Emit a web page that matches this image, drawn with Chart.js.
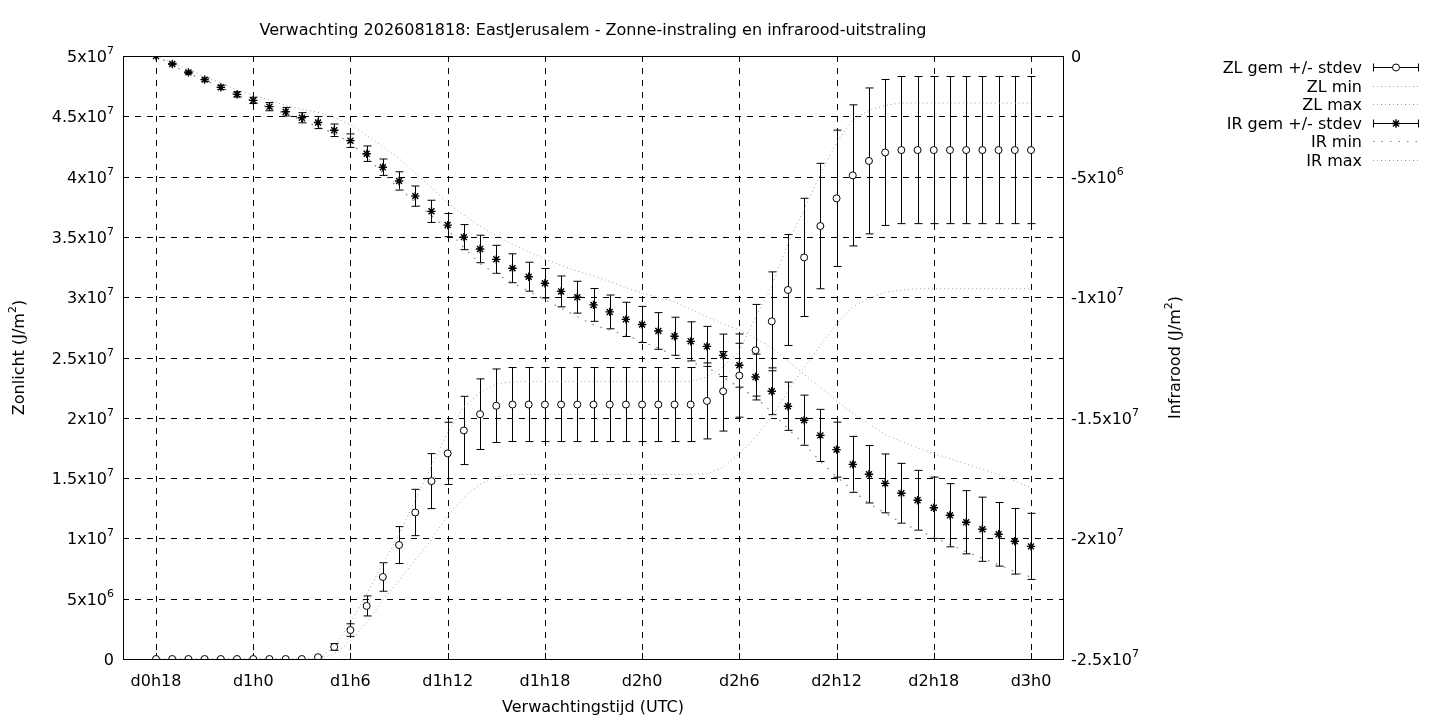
<!DOCTYPE html>
<html><head><meta charset="utf-8">
<script src="https://cdn.jsdelivr.net/npm/chart.js@4/dist/chart.umd.min.js"></script>
<style>html,body{margin:0;padding:0;background:#fff}#wrap{width:1440px;height:720px}</style>
</head><body><div id="wrap"><canvas id="c" width="1440" height="720"></canvas></div>
<script>
// ---------- DATA (values in units of 10^6 J/m^2) ----------
const titleText = "Verwachting 2026081818: EastJerusalem - Zonne-instraling en infrarood-uitstraling";
const xAxisTitle = "Verwachtingstijd (UTC)";
const leftAxisTitle = "Zonlicht (J/m^2)";
const rightAxisTitle = "Infrarood (J/m^2)";
const xTickHours = [0, 6, 12, 18, 24, 30, 36, 42, 48, 54];
const xTickLabels = ["d0h18", "d1h0", "d1h6", "d1h12", "d1h18", "d2h0", "d2h6", "d2h12", "d2h18", "d3h0"];
const leftTickValues = [0, 5, 10, 15, 20, 25, 30, 35, 40, 45, 50];
const leftTickLabels = ["0", "5x10^6", "1x10^7", "1.5x10^7", "2x10^7", "2.5x10^7", "3x10^7", "3.5x10^7", "4x10^7", "4.5x10^7", "5x10^7"];
const rightTickValues = [0, -5, -10, -15, -20, -25];
const rightTickLabels = ["0", "-5x10^6", "-1x10^7", "-1.5x10^7", "-2x10^7", "-2.5x10^7"];
const legendLabels = ["ZL gem +/- stdev", "ZL min", "ZL max", "IR gem +/- stdev", "IR min", "IR max"];

// hourly forecast steps, d0h18 .. d3h0 (hours since first step)
const hours = [0,1,2,3,4,5,6,7,8,9,10,11,12,13,14,15,16,17,18,19,20,21,22,23,24,25,26,27,28,29,30,31,32,33,34,35,36,37,38,39,40,41,42,43,44,45,46,47,48,49,50,51,52,53,54];

const zlMean = [0,0,0,0,0,0,0,0,0,0,0.15,1.0,2.4,4.4,6.8,9.45,12.15,14.75,17.05,18.95,20.3,21.0,
  21.1,21.1,21.1,21.1,21.1,21.1,21.1,21.1,21.1,21.1,21.1,21.1,
  21.4,22.2,23.5,25.6,28.0,30.6,33.3,35.9,38.2,40.1,41.3,42.0,
  42.2,42.2,42.2,42.2,42.2,42.2,42.2,42.2,42.2];
const zlStd = [0,0,0,0,0,0,0,0,0,0,0.05,0.28,0.52,0.83,1.18,1.53,1.92,2.28,2.58,2.83,2.93,3.05,
  3.07,3.07,3.07,3.07,3.07,3.07,3.07,3.07,3.07,3.07,3.07,3.07,
  3.15,3.3,3.45,3.8,4.1,4.6,4.9,5.2,5.65,5.85,6.05,6.05,
  6.1,6.1,6.1,6.1,6.1,6.1,6.1,6.1,6.1];
const zlMin = [0,0,0,0,0,0,0,0,0,0,0,0.4,1.5,3.0,4.9,6.5,8.2,9.9,11.9,13.4,14.5,15.1,
  15.3,15.3,15.3,15.3,15.3,15.3,15.3,15.3,15.3,15.3,15.3,15.3,
  15.35,15.9,17.0,18.4,20.1,22.2,24.2,26.0,27.8,29.2,29.9,30.4,
  30.6,30.7,30.7,30.7,30.7,30.7,30.7,30.7,30.7];
const zlMax = [0,0,0,0,0,0,0,0,0,0,0,1.0,3.0,5.4,7.9,10.3,13.2,16.0,18.8,20.9,22.1,22.8,
  23.0,23.0,23.0,23.0,23.0,23.0,23.0,23.0,23.0,23.0,23.0,23.0,
  23.4,24.2,25.6,28.3,30.9,34.5,37.3,40.2,42.8,44.7,45.5,45.9,
  46.1,46.1,46.1,46.1,46.1,46.1,46.1,46.1,46.1];

const irMean = [0,-0.33,-0.68,-0.98,-1.30,-1.59,-1.84,-2.10,-2.31,-2.56,-2.76,-3.08,-3.51,-4.05,-4.61,-5.18,-5.81,-6.44,-7.01,-7.51,
  -8.00,-8.43,-8.80,-9.15,-9.42,-9.76,-10.00,-10.32,-10.61,-10.92,-11.13,-11.40,-11.62,-11.83,-12.04,-12.41,-12.82,-13.31,-13.90,-14.52,
  -15.10,-15.73,-16.32,-16.93,-17.34,-17.72,-18.13,-18.42,-18.73,-19.04,-19.33,-19.62,-19.83,-20.12,-20.33];
const irStd = [0,0.03,0.05,0.07,0.09,0.11,0.13,0.17,0.18,0.21,0.25,0.26,0.28,0.32,0.34,0.38,0.42,0.46,0.48,0.52,
  0.57,0.58,0.60,0.60,0.61,0.64,0.66,0.68,0.70,0.71,0.75,0.76,0.79,0.81,0.83,0.88,0.91,0.95,0.97,1.00,
  1.04,1.08,1.14,1.16,1.19,1.22,1.24,1.24,1.27,1.31,1.31,1.33,1.32,1.36,1.37];
const irMin = [0,-0.38,-0.72,-1.0,-1.3,-1.6,-1.88,-2.15,-2.4,-2.66,-2.93,-3.2,-3.6,-4.2,-4.85,-5.5,-6.05,-6.62,-7.2,-7.95,
  -8.6,-9.05,-9.4,-9.75,-10.1,-10.45,-10.8,-11.15,-11.36,-11.57,-11.85,-12.1,-12.45,-12.7,-12.9,-13.3,-13.75,-14.15,-14.75,-15.45,
  -16.1,-16.8,-17.45,-18.0,-18.55,-18.95,-19.35,-19.65,-19.95,-20.25,-20.55,-20.82,-21.1,-21.37,-21.6];
const irMax = [0,-0.28,-0.56,-0.84,-1.12,-1.40,-1.62,-1.83,-2.05,-2.22,-2.33,-2.55,-2.85,-3.30,-3.76,-4.25,-4.85,-5.45,-6.10,-6.60,
  -7.05,-7.45,-7.80,-8.12,-8.42,-8.68,-8.92,-9.12,-9.35,-9.60,-9.83,-10.00,-10.20,-10.50,-10.82,-11.10,-11.36,-11.70,-12.10,-12.65,
  -13.20,-13.75,-14.30,-14.80,-15.25,-15.70,-15.98,-16.25,-16.48,-16.70,-16.92,-17.13,-17.36,-17.62,-17.90];

// ---------- STYLE ----------
const FONT = '"DejaVu Sans", "Liberation Sans", sans-serif';
const FS = 16;
const zlLineColor = '#a0a0a0';
const irMinColor = '#808080';
const irMaxColor = '#a0a0a0';

const pts = (arr) => arr.map((v, i) => ({x: hours[i], y: v}));

function drawRich(ctx, str, x, y, align, size) {
  const segs = [];
  const parts = str.split('^');
  segs.push({t: parts[0], sup: false});
  for (let k = 1; k < parts.length; k++) {
    segs.push({t: parts[k].charAt(0), sup: true});
    if (parts[k].length > 1) segs.push({t: parts[k].slice(1), sup: false});
  }
  const supSize = Math.round(size * 0.7);
  let total = 0;
  segs.forEach(s => { ctx.font = (s.sup ? supSize : size) + 'px ' + FONT; s.w = ctx.measureText(s.t).width; total += s.w; });
  let cx = align === 'right' ? x - total : (align === 'center' ? x - total / 2 : x);
  ctx.textAlign = 'left';
  ctx.textBaseline = 'alphabetic';
  segs.forEach(s => {
    ctx.font = (s.sup ? supSize : size) + 'px ' + FONT;
    ctx.fillText(s.t, cx, s.sup ? y - size * 0.5 : y);
    cx += s.w;
  });
}

function drawStar(ctx, mx, my, r) {
  ctx.beginPath();
  ctx.moveTo(mx - r, my); ctx.lineTo(mx + r, my);
  ctx.moveTo(mx, my - r); ctx.lineTo(mx, my + r);
  const d = r * Math.SQRT1_2;
  ctx.moveTo(mx - d, my - d); ctx.lineTo(mx + d, my + d);
  ctx.moveTo(mx - d, my + d); ctx.lineTo(mx + d, my - d);
  ctx.stroke();
}

const gnuplotPlugin = {
  id: 'gnuplotLook',
  beforeDatasetsDraw(chart) {
    const {ctx, chartArea: a, scales} = chart;
    const xs = scales.x, yl = scales.yL, yr = scales.yR;
    ctx.save();
    ctx.strokeStyle = '#000';
    ctx.lineWidth = 1;
    ctx.setLineDash([6, 6]);
    xTickHours.forEach(h => {
      const px = Math.round(xs.getPixelForValue(h)) + 0.5;
      ctx.beginPath(); ctx.moveTo(px, a.top); ctx.lineTo(px, a.bottom); ctx.stroke();
    });
    leftTickValues.forEach(v => {
      const py = Math.round(yl.getPixelForValue(v)) + 0.5;
      ctx.beginPath(); ctx.moveTo(a.left, py); ctx.lineTo(a.right, py); ctx.stroke();
    });
    ctx.setLineDash([]);
    const T = 6;
    xTickHours.forEach(h => {
      const px = Math.round(xs.getPixelForValue(h)) + 0.5;
      ctx.beginPath(); ctx.moveTo(px, a.bottom); ctx.lineTo(px, a.bottom - T);
      ctx.moveTo(px, a.top); ctx.lineTo(px, a.top + T); ctx.stroke();
    });
    leftTickValues.forEach(v => {
      const py = Math.round(yl.getPixelForValue(v)) + 0.5;
      ctx.beginPath(); ctx.moveTo(a.left, py); ctx.lineTo(a.left + T, py); ctx.stroke();
    });
    rightTickValues.forEach(v => {
      const py = Math.round(yr.getPixelForValue(v)) + 0.5;
      ctx.beginPath(); ctx.moveTo(a.right, py); ctx.lineTo(a.right - T, py); ctx.stroke();
    });
    ctx.strokeRect(Math.round(a.left) + 0.5, Math.round(a.top) + 0.5, Math.round(a.right - a.left), Math.round(a.bottom - a.top));
    const cap = 4;
    const drawErr = (mean, sd, ys) => {
      hours.forEach((h, i) => {
        if (!sd[i]) return;
        const px = Math.round(xs.getPixelForValue(h)) + 0.5;
        const y1 = ys.getPixelForValue(mean[i] + sd[i]);
        const y2 = ys.getPixelForValue(mean[i] - sd[i]);
        ctx.beginPath();
        ctx.moveTo(px, y1); ctx.lineTo(px, y2);
        ctx.moveTo(px - cap, y1); ctx.lineTo(px + cap, y1);
        ctx.moveTo(px - cap, y2); ctx.lineTo(px + cap, y2);
        ctx.stroke();
      });
    };
    drawErr(zlMean, zlStd, yl);
    drawErr(irMean, irStd, yr);
    ctx.restore();
  },
  afterDraw(chart) {
    const {ctx, chartArea: a, scales} = chart;
    const xs = scales.x, yl = scales.yL, yr = scales.yR;
    ctx.save();
    ctx.fillStyle = '#000';
    drawRich(ctx, titleText, (a.left + a.right) / 2, 35, 'center', FS);
    xTickHours.forEach((h, i) => drawRich(ctx, xTickLabels[i], xs.getPixelForValue(h), 686, 'center', FS));
    leftTickValues.forEach((v, i) => drawRich(ctx, leftTickLabels[i], a.left - 9, yl.getPixelForValue(v) + 6, 'right', FS));
    rightTickValues.forEach((v, i) => drawRich(ctx, rightTickLabels[i], a.right + 8, yr.getPixelForValue(v) + 6, 'left', FS));
    drawRich(ctx, xAxisTitle, (a.left + a.right) / 2, 712, 'center', FS);
    const cy = (a.top + a.bottom) / 2;
    ctx.save(); ctx.translate(24, cy); ctx.rotate(-Math.PI / 2);
    drawRich(ctx, leftAxisTitle, 0, 0, 'center', FS); ctx.restore();
    ctx.save(); ctx.translate(1180, cy); ctx.rotate(-Math.PI / 2);
    drawRich(ctx, rightAxisTitle, 0, 0, 'center', FS); ctx.restore();
    const rowsY = [67, 85.5, 104, 122.5, 141, 159.5];
    const tx = 1362, sx1 = 1373, sx2 = 1419;
    legendLabels.forEach((lab, i) => {
      const y = rowsY[i];
      ctx.fillStyle = '#000';
      drawRich(ctx, lab, tx, y + 6, 'right', FS);
      const ly = Math.round(y) + 0.5;
      ctx.lineWidth = 1;
      if (i === 0 || i === 3) {
        ctx.strokeStyle = '#000'; ctx.setLineDash([]);
        ctx.beginPath();
        ctx.moveTo(sx1, ly); ctx.lineTo(sx2, ly);
        ctx.moveTo(sx1 + 0.5, ly - 4); ctx.lineTo(sx1 + 0.5, ly + 4);
        ctx.moveTo(sx2 - 0.5, ly - 4); ctx.lineTo(sx2 - 0.5, ly + 4);
        ctx.stroke();
        const mx = (sx1 + sx2) / 2;
        if (i === 0) {
          ctx.beginPath(); ctx.arc(mx, ly, 3.5, 0, Math.PI * 2);
          ctx.fillStyle = '#fff'; ctx.fill(); ctx.stroke();
        } else {
          ctx.lineWidth = 1.4;
          drawStar(ctx, mx, ly, 4.2);
        }
      } else {
        const ds = chart.data.datasets[i === 1 ? 2 : i === 2 ? 3 : i === 4 ? 4 : 5];
        ctx.strokeStyle = ds.borderColor; ctx.setLineDash(ds.borderDash);
        ctx.beginPath(); ctx.moveTo(sx1, ly); ctx.lineTo(sx2, ly); ctx.stroke();
        ctx.setLineDash([]);
      }
    });
    ctx.restore();
  }
};

new Chart(document.getElementById('c'), {
  type: 'line',
  data: {
    datasets: [
      { label: legendLabels[0], data: pts(zlMean), yAxisID: 'yL', showLine: false,
        pointStyle: 'circle', pointRadius: 3.5, pointBackgroundColor: '#fff', pointBorderColor: '#000', pointBorderWidth: 1 },
      { label: legendLabels[3], data: pts(irMean), yAxisID: 'yR', showLine: false,
        pointStyle: 'star', pointRadius: 4.2, pointBackgroundColor: '#000', pointBorderColor: '#000', pointBorderWidth: 1.4 },
      { label: legendLabels[1], data: pts(zlMin), yAxisID: 'yL', borderColor: zlLineColor, borderWidth: 1,
        borderDash: [1, 3], pointRadius: 0, tension: 0, fill: false },
      { label: legendLabels[2], data: pts(zlMax), yAxisID: 'yL', borderColor: zlLineColor, borderWidth: 1,
        borderDash: [1, 3], pointRadius: 0, tension: 0, fill: false },
      { label: legendLabels[4], data: pts(irMin), yAxisID: 'yR', borderColor: irMinColor, borderWidth: 1.2,
        borderDash: [1.5, 7], pointRadius: 0, tension: 0, fill: false },
      { label: legendLabels[5], data: pts(irMax), yAxisID: 'yR', borderColor: irMaxColor, borderWidth: 1,
        borderDash: [1, 3], pointRadius: 0, tension: 0, fill: false }
    ]
  },
  options: {
    responsive: false,
    animation: false,
    devicePixelRatio: 1,
    layout: { padding: { top: 56, left: 0, right: 0, bottom: 0 } },
    plugins: { legend: { display: false }, title: { display: false }, tooltip: { enabled: false } },
    scales: {
      x: { type: 'linear', position: 'bottom', min: -2.037, max: 55.975,
        grid: { display: false }, border: { display: false }, ticks: { display: false },
        afterFit(s) { s.height = 61; } },
      yL: { type: 'linear', position: 'left', min: 0, max: 50,
        grid: { display: false }, border: { display: false }, ticks: { display: false },
        afterFit(s) { s.width = 123; } },
      yR: { type: 'linear', position: 'right', min: -25, max: 0,
        grid: { display: false }, border: { display: false }, ticks: { display: false },
        afterFit(s) { s.width = 377; } }
    }
  },
  plugins: [gnuplotPlugin]
});
</script>
</body></html>
